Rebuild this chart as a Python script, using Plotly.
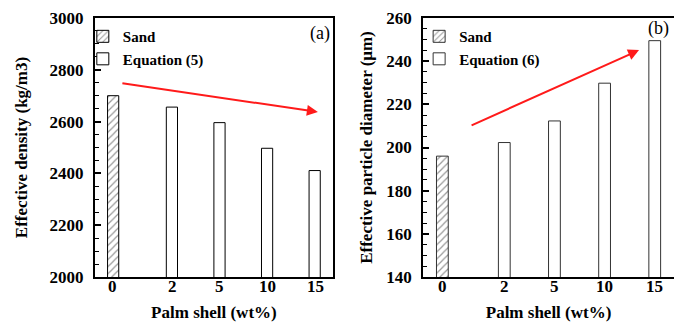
import plotly.graph_objects as go

categories = ["0", "2", "5", "10", "15"]
sand_x = ["0"]
eq_x = ["2", "5", "10", "15"]
density_sand = [2700]
density_eq = [2656, 2596, 2497, 2411]
diam_sand = [196]
diam_eq = [202.3, 212.3, 229.8, 249.5]
ytick_density = [2000, 2200, 2400, 2600, 2800, 3000]
ytick_diam = [140, 160, 180, 200, 220, 240, 260]

FONT = "Liberation Serif"
BW = 0.235  # bar width in category units
fig = go.Figure()

hatch = dict(shape="/", fgcolor="#333", bgcolor="white", size=5, solidity=0.25)

fig.add_trace(go.Bar(x=sand_x, y=density_sand, name="Sand", xaxis="x", yaxis="y",
                     width=BW, offset=-BW,
                     marker=dict(color="white", pattern=hatch, line=dict(color="black", width=1)),
                     legend="legend"))
fig.add_trace(go.Bar(x=eq_x, y=density_eq, name="Equation (5)", xaxis="x", yaxis="y",
                     width=BW, offset=0,
                     marker=dict(color="white", line=dict(color="black", width=1)),
                     legend="legend"))
fig.add_trace(go.Bar(x=sand_x, y=diam_sand, name="Sand", xaxis="x2", yaxis="y2",
                     width=BW, offset=-BW,
                     marker=dict(color="white", pattern=hatch, line=dict(color="#333", width=1)),
                     legend="legend2"))
fig.add_trace(go.Bar(x=eq_x, y=diam_eq, name="Equation (6)", xaxis="x2", yaxis="y2",
                     width=BW, offset=0,
                     marker=dict(color="white", line=dict(color="#333", width=1)),
                     legend="legend2"))

tickfont = dict(family=FONT, size=17, color="black", weight="bold")
titlefont = dict(family=FONT, size=17, color="black", weight="bold")

def xaxis(domain, anchor):
    return dict(domain=domain, anchor=anchor, type="category", categoryorder="array",
                categoryarray=categories, range=[-0.5, len(categories) - 0.5],
                showticklabels=False, ticks="",
                showline=True, mirror=True, linecolor="black", linewidth=2,
                showgrid=False, zeroline=False,
                title=dict(text="Palm shell (wt%)", font=titlefont, standoff=28))

def yaxis(domain, anchor, rng, vals, dminor, title, standoff):
    return dict(domain=domain, anchor=anchor, range=rng, tickvals=vals,
                ticks="inside", ticklen=6, tickwidth=1.5, tickcolor="black",
                minor=dict(ticks="inside", dtick=dminor, ticklen=4, tickwidth=1.2, tickcolor="black"),
                showline=True, mirror=True, linecolor="black", linewidth=2,
                showgrid=False, zeroline=False, tickfont=tickfont, ticklabelstandoff=6,
                title=dict(text=title, font=titlefont, standoff=standoff))

legfont = dict(family=FONT, size=15, color="black", weight="bold")
fig.update_layout(
    width=674, height=315,
    margin=dict(l=0, r=0, t=10, b=46),
    paper_bgcolor="white", plot_bgcolor="white",
    barmode="overlay",
    xaxis=xaxis([0.129, 0.482], "y"),
    yaxis=yaxis([0, 1], "x", [2000, 3000], ytick_density, 50, "Effective density (kg/m3)", 18),
    xaxis2=xaxis([0.616, 0.988], "y2"),
    yaxis2=yaxis([0, 1], "x2", [140, 260], ytick_diam, 5, "Effective particle diameter (μm)", 9),
    legend=dict(x=0.111, y=0.992, xanchor="left", yanchor="top", bgcolor="rgba(0,0,0,0)",
                font=legfont, tracegroupgap=0, itemwidth=30),
    legend2=dict(x=0.610, y=0.992, xanchor="left", yanchor="top", bgcolor="rgba(0,0,0,0)",
                 font=legfont, tracegroupgap=0, itemwidth=30),
    showlegend=True,
)

annotations = []
# category tick labels placed under the bars (x given as category index)
for xa, ya in (("x", "y"), ("x2", "y2")):
    for i, c in enumerate(categories):
        annotations.append(dict(x=i, y=0, xref=xa, yref=ya + " domain", text=c,
                                showarrow=False, yanchor="top", yshift=2,
                                xshift=(-6 if c in sand_x else 6),
                                font=tickfont))
# trend arrows
annotations.append(dict(xref="x domain", yref="y domain", axref="x domain", ayref="y domain",
                        x=0.937, y=0.637, ax=0.109, ay=0.749, showarrow=True, text="",
                        arrowhead=2, arrowsize=1.1, arrowwidth=2, arrowcolor="#ff1a1a"))
annotations.append(dict(xref="x2 domain", yref="y2 domain", axref="x2 domain", ayref="y2 domain",
                        x=0.861, y=0.876, ax=0.187, ay=0.583, showarrow=True, text="",
                        arrowhead=2, arrowsize=1.1, arrowwidth=2, arrowcolor="#ff1a1a"))
# panel labels
annotations.append(dict(xref="x domain", yref="y domain", x=0.995, y=0.94, text="(a)",
                        showarrow=False, xanchor="right", yanchor="middle",
                        font=dict(family=FONT, size=18, color="black")))
annotations.append(dict(xref="x2 domain", yref="y2 domain", x=0.99, y=0.96, text="(b)",
                        showarrow=False, xanchor="right", yanchor="middle",
                        font=dict(family=FONT, size=18, color="black")))
fig.update_layout(annotations=annotations)

fig.write_html("out.html")
